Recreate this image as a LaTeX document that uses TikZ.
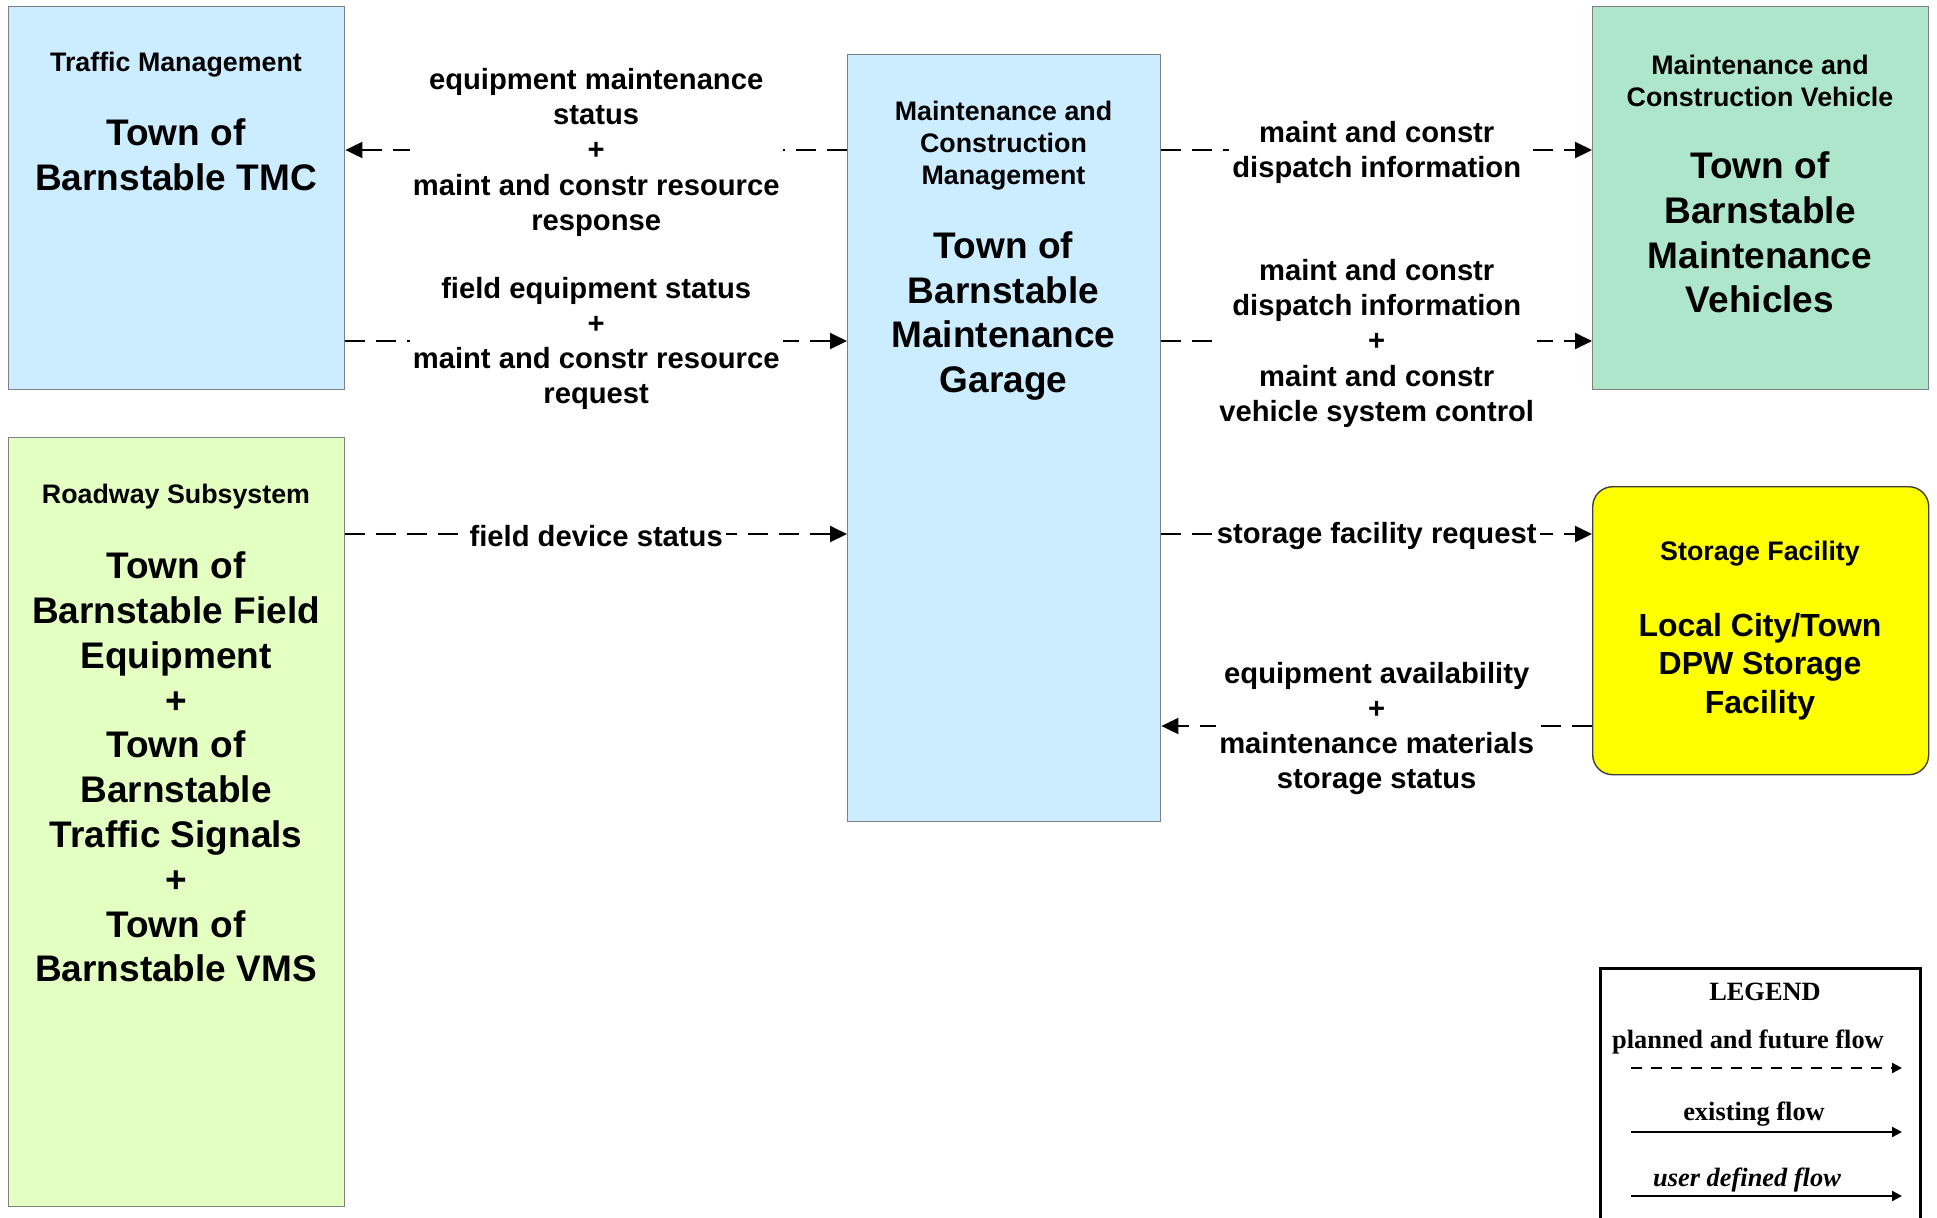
\documentclass[tikz,border=0pt]{standalone}
\usepackage{fontspec}
\setmainfont{Liberation Sans}
\newfontfamily\legfont{Liberation Serif}
\usetikzlibrary{arrows.meta}
\definecolor{boxblue}{HTML}{CCECFF}
\definecolor{boxlime}{HTML}{E3FFC2}
\definecolor{boxgreen}{HTML}{AEE6CC}
\definecolor{boxyellow}{HTML}{FFFF00}
\definecolor{edgegray}{HTML}{7F7F7F}
\definecolor{edgedark}{HTML}{404040}
\begin{document}
\begin{tikzpicture}[x=0.5pt,y=-0.5pt,
  sysbox/.style={draw=edgegray, line width=0.7pt, inner sep=0pt, anchor=north west},
  hdr/.style={font=\bfseries\fontsize{13.4}{16}\selectfont, align=center, inner sep=0pt},
  big/.style={font=\bfseries\fontsize{18.5}{22.4}\selectfont, align=center, inner sep=0pt},
  bigs/.style={font=\bfseries\fontsize{16}{19.2}\selectfont, align=center, inner sep=0pt},
  lbl/.style={font=\bfseries\fontsize{14.6}{17.6}\selectfont, align=center, fill=white, inner sep=1.5pt, yshift=-1.2pt},
  flow/.style={line width=1pt, dash pattern=on 10pt off 5.5pt, -{Triangle[length=8.5pt,width=8pt]}},
  legtxt/.style={font=\legfont\bfseries\fontsize{13.2}{15}\selectfont, inner sep=0pt},
  legline/.style={line width=1.1pt, -{Triangle[length=5pt,width=5pt]}}
]
\useasboundingbox (0,0) rectangle (1937,1217);
\clip (0,0) rectangle (1937,1217);

% boxes
\node[sysbox, fill=boxblue, minimum width=168pt, minimum height=191.5pt] (tmc) at (8,6) {};
\node[sysbox, fill=boxlime, minimum width=168pt, minimum height=384.5pt] (road) at (8,437) {};
\node[sysbox, fill=boxblue, minimum width=156.5pt, minimum height=383.5pt] (garage) at (847,54) {};
\node[sysbox, fill=boxgreen, minimum width=168pt, minimum height=191.5pt] (mcv) at (1592,6) {};
\node[sysbox, draw=edgedark, fill=boxyellow, rounded corners=10pt, minimum width=168pt, minimum height=144pt] (store) at (1592,486) {};
\node[sysbox, draw=black, line width=1.5pt, minimum width=160pt, minimum height=140pt] (legend) at (1599,967) {};

% box texts
\node[hdr] (tmch) at (176,65) {Traffic Management};
\node[big] (tmcb) at (176,155) {Town of\\Barnstable TMC};
\node[hdr] (roadh) at (176,497) {Roadway Subsystem};
\node[big] (roadb) at (176,767) {Town of\\Barnstable Field\\Equipment\\+\\Town of\\Barnstable\\Traffic Signals\\+\\Town of\\Barnstable VMS};
\node[hdr] (garh) at (1003.5,145.5) {Maintenance and\\Construction\\Management};
\node[big] (garb) at (1003.5,316) {Town of\\Barnstable\\Maintenance\\Garage};
\node[hdr] (mcvh) at (1760,81) {Maintenance and\\Construction Vehicle};
\node[big] (mcvb) at (1760,232.5) {Town of\\Barnstable\\Maintenance\\Vehicles};
\node[hdr] (storeh) at (1760,553.5) {Storage Facility};
\node[bigs] (storeb) at (1760,666.5) {Local City/Town\\DPW Storage\\Facility};

% flow rows
\coordinate (r1) at (0,150);
\coordinate (r2) at (0,341);
\coordinate (r3) at (0,534);
\coordinate (r4) at (0,726);

\draw[flow] (garage.west |- r1) -- node[lbl] {equipment maintenance\\status\\+\\maint and constr resource\\response} (tmc.east |- r1);
\draw[flow] (tmc.east |- r2) -- node[lbl] {field equipment status\\+\\maint and constr resource\\request} (garage.west |- r2);
\draw[flow] (road.east |- r3) -- node[lbl, yshift=0.4pt] {field device status} (garage.west |- r3);
\draw[flow] (garage.east |- r1) -- node[lbl] {maint and constr\\dispatch information} (mcv.west |- r1);
\draw[flow] (garage.east |- r2) -- node[lbl] {maint and constr\\dispatch information\\+\\maint and constr\\vehicle system control} (mcv.west |- r2);
\draw[flow] (garage.east |- r3) -- node[lbl] {storage facility request} (store.west |- r3);
\draw[flow] (store.west |- r4) -- node[lbl] {equipment availability\\+\\maintenance materials\\storage status} (garage.east |- r4);

% legend
\node[legtxt] (legh) at (1765,992) {LEGEND};
\node[legtxt] (leg1) at (1748,1042) {planned and future flow};
\node[legtxt] (leg2) at (1754,1114) {existing flow};
\node[legtxt, font=\legfont\bfseries\itshape\fontsize{13.2}{15}\selectfont] (leg3) at (1747,1180) {user defined flow};
\coordinate (l1a) at (1631,1068); \coordinate (l1b) at (1902,1068);
\coordinate (l2a) at (1631,1132); \coordinate (l2b) at (1902,1132);
\coordinate (l3a) at (1631,1196); \coordinate (l3b) at (1902,1196);
\draw[legline, dash pattern=on 5.5pt off 4.5pt] (l1a) -- (l1b);
\draw[legline] (l2a) -- (l2b);
\draw[legline] (l3a) -- (l3b);
\end{tikzpicture}
\end{document}
